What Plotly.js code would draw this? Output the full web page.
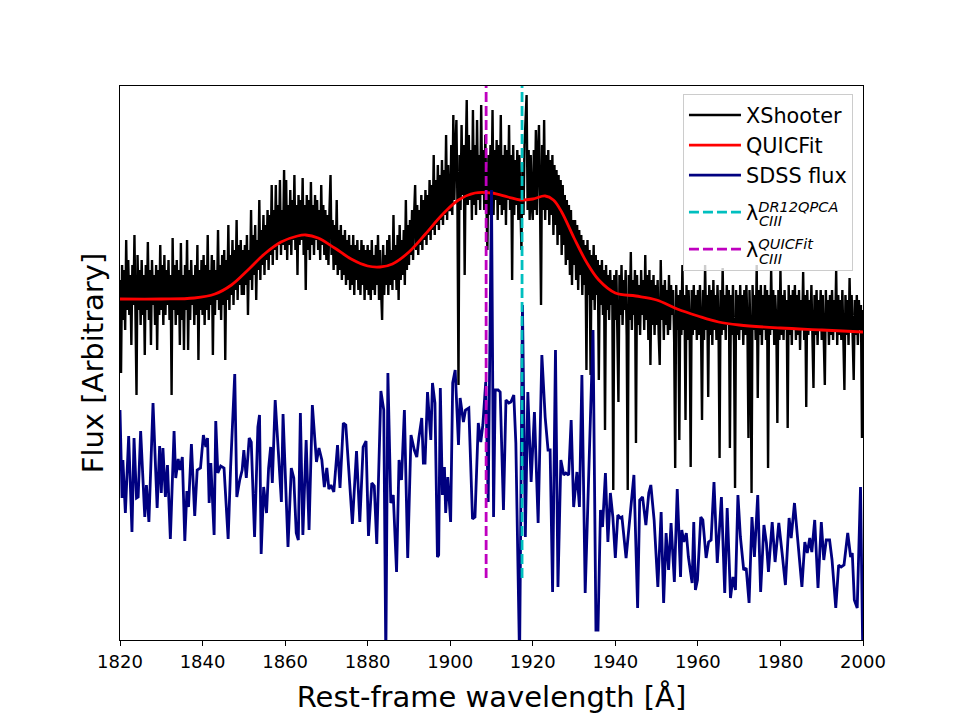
<!DOCTYPE html>
<html><head><meta charset="utf-8">
<script src="https://cdn.plot.ly/plotly-3.0.1.min.js"></script>
<style>body{margin:0;background:#fff}#chart{width:960px;height:720px}</style>
</head><body><div id="chart"></div>
<script>
// XShooter spectrum, sampled every 0.25 A from 1820 to 2000 (one row = 10 A)
const xshooterStart = 1820, xshooterStep = 0.25;
const xshooterFlux = [
3.60,2.67,3.75,3.20,3.70,3.10,4.00,3.30,3.80,3.25,3.65,2.95,3.75,3.35,4.05,3.20,2.45,3.85,3.30,3.70,3.15,3.80,3.25,3.65,2.85,3.75,3.30,3.98,3.20,3.70,2.95,3.80,3.35,3.65,3.15,3.75,2.90,3.70,3.25,3.95,
3.30,3.75,3.15,3.85,3.25,3.70,3.35,3.80,3.20,3.65,2.45,4.02,3.30,3.75,3.15,3.80,3.25,3.70,2.95,3.97,3.20,3.65,2.90,3.75,3.30,4.00,2.90,3.70,3.20,3.80,3.35,3.65,3.15,3.75,3.25,3.95,2.80,3.70,3.30,3.80,
3.25,3.85,3.15,3.75,3.30,4.05,3.20,3.70,3.35,3.85,2.85,3.80,3.25,3.70,3.40,4.10,3.30,3.75,3.20,3.85,3.35,3.90,2.80,3.80,3.40,4.15,3.30,3.85,3.45,4.00,3.35,3.90,3.50,4.20,3.40,3.95,3.55,4.00,3.45,3.90,
3.45,3.95,3.55,4.05,3.25,3.90,3.60,4.30,3.50,4.05,3.65,4.15,3.40,4.00,3.70,4.40,3.60,4.10,3.75,4.25,3.65,4.15,3.80,4.30,3.70,4.25,3.85,4.55,3.75,4.30,3.90,4.55,3.80,4.35,3.95,4.60,3.85,4.30,3.95,4.70,
3.90,4.60,3.80,4.35,3.95,4.50,3.85,4.40,4.00,4.65,3.90,4.35,3.65,4.45,3.95,4.40,4.00,4.62,3.85,4.35,3.50,4.45,3.90,4.40,3.80,4.58,3.95,4.35,3.85,4.45,4.00,4.40,3.90,4.30,3.80,4.55,3.95,4.35,3.85,4.30,
3.80,4.25,3.75,4.30,4.65,3.85,4.20,3.70,4.15,3.75,4.40,3.65,4.10,3.70,4.15,3.60,4.05,3.65,4.10,3.55,4.00,3.60,4.05,3.50,3.95,3.55,4.05,3.45,3.95,3.60,4.00,3.50,3.90,3.45,4.00,3.55,3.95,3.40,3.90,3.50,
3.95,3.45,3.90,3.40,4.00,3.50,3.85,3.45,3.95,3.55,4.05,3.40,3.90,3.50,3.20,3.95,3.45,3.85,3.55,4.00,3.45,4.05,3.55,3.90,3.50,4.25,3.60,3.95,3.50,4.05,3.40,4.15,3.60,4.00,3.65,4.10,3.55,4.40,3.70,4.15,
3.75,4.20,3.85,4.30,3.80,4.25,4.55,3.90,4.35,3.85,4.30,3.95,4.45,3.90,4.40,4.00,4.50,3.95,4.45,4.05,4.60,4.00,4.55,4.10,4.85,4.05,4.60,4.15,4.75,4.10,4.65,4.20,4.80,4.15,4.70,4.25,5.05,4.20,4.75,4.30,
4.30,4.95,4.25,5.25,4.40,4.90,5.20,4.35,2.55,4.85,4.30,5.15,4.45,4.95,3.65,4.80,5.40,4.35,5.05,4.40,4.90,4.20,5.30,4.35,4.95,4.25,5.20,4.40,4.85,4.30,5.35,4.45,4.90,4.30,5.05,4.40,3.90,4.85,4.25,4.95,
4.35,5.30,4.25,4.90,4.40,5.00,4.20,4.95,4.35,5.25,4.25,4.85,4.30,4.95,4.15,4.90,4.40,5.15,4.30,4.85,3.60,4.95,4.25,4.80,4.35,4.90,4.20,4.85,4.30,3.90,4.75,4.25,4.95,5.15,5.45,4.30,4.90,4.20,4.85,4.35,
4.20,4.90,4.30,5.10,4.25,4.85,5.15,4.40,3.35,4.95,4.30,5.20,4.20,4.85,4.30,4.90,4.15,4.80,4.25,4.85,4.05,4.75,4.15,4.70,3.95,4.65,4.05,4.60,3.85,4.55,3.95,4.45,3.75,4.40,3.80,4.35,3.65,4.30,3.55,4.20,
3.75,4.20,3.60,4.15,3.50,4.10,3.65,4.05,3.45,4.00,3.55,3.95,2.70,4.00,3.45,3.90,2.65,3.85,3.40,3.95,3.30,3.85,3.45,3.80,2.60,3.75,3.35,3.80,3.25,3.70,2.10,3.75,3.30,3.65,3.20,3.70,3.35,3.60,1.50,3.65,
3.20,3.70,3.10,2.38,3.65,3.25,3.75,3.15,3.60,3.30,3.70,3.05,1.50,3.65,3.20,3.88,3.10,3.60,3.25,3.70,1.97,3.65,3.15,3.55,3.05,3.70,3.25,3.60,3.10,3.85,3.20,3.65,3.00,3.70,2.75,3.60,3.15,3.65,3.05,3.55,
3.15,3.60,3.05,2.75,3.80,3.20,3.55,3.00,3.60,3.15,3.50,3.05,3.65,3.10,3.55,3.25,3.50,3.00,1.72,3.55,3.10,3.45,2.00,3.50,3.05,3.75,3.10,3.45,2.20,3.55,3.00,3.50,3.15,1.73,3.50,3.05,3.55,3.10,3.45,3.00,
3.50,3.05,3.55,3.15,2.20,3.50,3.00,3.75,3.10,3.45,2.43,3.55,3.05,3.50,2.95,3.60,3.10,3.45,3.00,3.55,3.15,1.82,3.50,3.05,3.72,3.10,3.45,3.00,3.55,3.15,3.50,1.92,3.45,3.05,3.55,2.95,1.52,3.50,3.05,3.45,
3.00,3.55,3.10,3.45,2.95,3.50,3.05,3.55,3.15,2.02,3.50,3.00,1.47,3.55,3.10,3.45,3.00,3.75,2.42,3.50,3.05,3.55,2.95,3.45,3.10,3.55,3.00,3.50,1.72,3.45,3.05,3.70,3.10,3.50,2.95,3.45,3.15,2.17,3.50,3.00,
3.70,3.05,3.45,3.00,3.50,3.10,3.40,2.12,3.55,3.05,3.45,2.95,3.50,3.10,3.55,3.00,3.45,3.05,3.50,2.90,3.40,3.10,3.68,3.00,3.45,2.33,3.50,3.05,3.40,3.10,3.55,3.00,2.52,3.45,3.05,3.50,2.95,3.40,3.10,3.50,
3.00,3.45,3.05,2.55,3.50,3.10,3.40,2.95,3.45,3.05,3.50,3.00,3.40,3.10,3.70,2.95,3.45,3.05,3.40,3.00,3.50,3.10,2.50,3.45,3.05,3.40,2.95,3.62,3.10,3.45,3.00,2.60,3.40,3.05,3.45,2.95,3.40,3.10,3.35,2.02,
3.30
];

// QUICFit model
const quicWave = [1820,1830,1838,1843,1847,1851,1855,1859,1863,1865,1868,1872,1876,1880,1883,1886,1890,1894,1898,1902,1906,1910,1914,1917,1920,1923,1925,1927,1930,1933,1936,1940,1945,1950,1955,1960,1965,1970,1980,1990,2000];
const quicFlux = [3.41,3.41,3.42,3.46,3.55,3.70,3.86,3.98,4.04,4.05,4.02,3.92,3.81,3.74,3.73,3.76,3.88,4.06,4.25,4.40,4.47,4.47,4.43,4.40,4.41,4.44,4.40,4.28,4.02,3.78,3.60,3.47,3.44,3.40,3.31,3.24,3.18,3.15,3.12,3.10,3.08];

// SDSS flux
const sdssWave = [1820.0,1820.5,1820.7,1821.3,1822.1,1822.9,1823.4,1824.0,1824.4,1825.0,1826.0,1826.4,1827.0,1828.0,1829.0,1829.6,1830.0,1830.4,1831.0,1831.5,1832.2,1833.1,1833.5,1834.1,1834.5,1835.1,1835.7,1836.2,1836.6,1837.3,1838.1,1838.7,1839.5,1840.2,1840.8,1841.2,1841.6,1842.0,1842.8,1843.2,1843.7,1844.4,1845.2,1846.2,1846.8,1847.8,1848.3,1849.0,1849.6,1850.0,1850.6,1851.3,1851.8,1852.6,1853.4,1853.8,1854.2,1854.8,1855.5,1856.0,1856.5,1856.9,1857.6,1859.1,1859.5,1860.7,1861.5,1862.1,1862.7,1863.2,1863.7,1864.3,1865.1,1865.8,1866.6,1867.6,1868.2,1868.9,1869.5,1870.1,1870.6,1871.1,1871.8,1872.7,1873.3,1874.1,1874.7,1875.3,1876.3,1877.3,1878.1,1878.9,1879.6,1880.2,1881.0,1881.6,1882.2,1883.2,1883.9,1884.4,1884.9,1885.6,1886.2,1887.0,1887.6,1888.2,1888.9,1889.7,1890.5,1891.3,1891.9,1892.4,1893.1,1893.5,1893.9,1894.5,1895.3,1895.7,1896.3,1896.9,1897.2,1897.6,1898.1,1898.6,1898.9,1899.4,1900.1,1900.6,1901.2,1902.0,1902.4,1903.2,1903.7,1904.5,1905.4,1906.0,1906.8,1907.4,1907.9,1908.6,1909.2,1910.0,1910.5,1910.9,1911.6,1912.1,1912.9,1913.5,1914.2,1914.7,1915.4,1915.9,1916.8,1917.5,1918.2,1918.8,1919.6,1920.4,1921.3,1922.2,1923.0,1923.7,1924.2,1924.8,1925.5,1926.1,1926.8,1927.5,1928.0,1928.7,1929.3,1929.9,1930.7,1931.3,1931.9,1932.7,1933.5,1934.1,1934.6,1935.3,1935.8,1936.4,1936.9,1937.6,1938.2,1938.8,1939.4,1940.0,1940.6,1941.2,1941.6,1942.6,1943.2,1943.9,1944.5,1945.4,1945.9,1946.6,1947.4,1948.1,1948.6,1949.4,1950.3,1951.1,1951.7,1952.3,1952.9,1953.5,1954.3,1955.0,1955.8,1956.1,1956.6,1957.2,1957.7,1958.6,1959.0,1959.4,1959.9,1960.7,1961.2,1962.0,1962.6,1963.2,1963.9,1964.7,1965.7,1966.5,1967.1,1967.9,1968.5,1969.1,1969.7,1970.3,1971.1,1971.7,1972.4,1973.1,1973.7,1974.5,1975.2,1976.0,1976.6,1977.1,1978.0,1978.7,1979.6,1980.4,1981.2,1982.1,1982.6,1983.4,1984.1,1985.2,1985.9,1986.5,1987.1,1987.6,1988.3,1989.1,1989.9,1990.5,1991.1,1991.9,1992.5,1993.4,1994.1,1994.7,1995.4,1996.3,1997.0,1997.4,1997.9,1998.6,1999.4,2000.0];
const sdssFlux = [2.30,1.42,1.80,1.27,2.04,1.08,2.02,1.42,1.43,2.09,1.23,1.55,1.18,2.37,1.32,1.94,1.47,1.92,1.43,1.75,1.01,2.09,1.62,1.81,1.70,1.83,0.99,1.49,1.33,1.96,1.24,1.70,1.72,2.05,1.93,2.02,1.37,1.77,1.05,2.19,1.67,1.74,1.72,1.01,1.73,2.66,1.43,1.60,1.70,1.90,1.62,2.02,1.98,1.03,2.13,2.25,0.86,1.53,1.27,1.72,1.93,1.57,2.40,1.38,2.26,0.93,1.72,1.62,1.07,1.00,2.27,1.05,2.00,1.10,2.35,1.78,1.92,1.80,1.53,1.72,1.51,1.55,1.48,1.95,1.52,2.17,2.15,1.80,1.16,1.89,1.18,1.93,1.99,1.04,1.57,1.54,0.96,2.49,2.30,-0.20,2.67,1.37,1.45,0.68,1.80,1.60,2.30,0.82,2.05,1.90,1.83,2.02,2.22,1.77,1.77,2.48,2.00,2.57,2.37,0.83,0.85,2.52,1.45,1.73,1.27,1.63,1.18,2.57,2.70,1.95,2.42,2.18,2.30,2.32,1.21,1.23,2.17,1.98,2.15,2.58,1.38,4.50,1.23,2.50,2.50,2.48,1.30,2.40,2.37,2.38,2.45,1.97,-0.20,3.35,1.03,2.48,1.58,2.28,1.17,2.85,2.23,1.90,1.90,0.48,2.90,0.53,1.80,1.65,1.67,1.65,2.20,1.33,1.68,1.33,2.65,0.47,1.53,2.55,3.10,0.10,0.10,1.30,1.13,1.67,0.98,1.47,1.23,0.82,1.25,1.22,1.23,0.82,1.07,1.40,1.65,0.32,1.40,1.43,1.15,1.47,1.55,1.20,0.53,1.28,0.37,1.07,0.70,1.17,0.58,1.51,0.63,1.10,0.98,1.07,0.83,0.57,1.18,0.50,0.60,1.23,1.20,0.82,0.98,1.00,1.58,0.77,1.43,0.47,1.32,0.42,0.63,0.50,1.45,1.03,0.70,0.72,0.37,1.23,0.83,1.45,0.48,1.15,0.97,0.68,1.18,0.78,1.17,0.87,0.55,1.22,1.02,1.37,1.05,0.53,0.98,0.87,1.02,0.88,1.20,0.52,1.18,0.80,1.00,1.00,0.80,0.32,0.75,0.73,0.75,1.07,0.83,0.87,0.40,0.32,1.53,-0.30];

// CIII] line centres
const lambdaDR12 = 1917.4;
const lambdaQUIC = 1908.7;
const markerFluxRange = [0.62, 5.8];

const xshooterWave = xshooterFlux.map((_, i) => xshooterStart + i * xshooterStep);

const traces = [
  {x: xshooterWave, y: xshooterFlux, mode: 'lines', name: 'XShooter', legendgroup: 'spec',
   line: {color: '#000000', width: 2.4}},
  {x: quicWave, y: quicFlux, mode: 'lines', name: 'QUICFit', legendgroup: 'spec',
   line: {color: '#ff0000', width: 2.8, shape: 'spline', smoothing: 1}},
  {x: sdssWave, y: sdssFlux, mode: 'lines', name: 'SDSS flux', legendgroup: 'spec',
   line: {color: '#000080', width: 2.8}},
  {x: [lambdaDR12, lambdaDR12], y: markerFluxRange, mode: 'lines', legendgroup: 'dr12',
   name: 'λ<sup><i>DR12QPCA</i></sup>',
   line: {color: '#00bfbf', width: 2.8, dash: '10px,4px'}},
  {x: [lambdaQUIC, lambdaQUIC], y: markerFluxRange, mode: 'lines', legendgroup: 'quic',
   name: 'λ<sup><i>QUICFit</i></sup>',
   line: {color: '#bf00bf', width: 2.8, dash: '10px,4px'}}
];

const layout = {
  width: 960, height: 720,
  margin: {l: 120, r: 97, t: 86, b: 80},
  paper_bgcolor: '#ffffff', plot_bgcolor: '#ffffff',
  font: {family: 'DejaVu Sans', color: '#000000'},
  showlegend: true,
  xaxis: {range: [1820, 2000], tick0: 1820, dtick: 20, ticks: 'outside', ticklen: 5, tickwidth: 1,
    tickcolor: '#000', showline: true, mirror: true, linecolor: '#000', linewidth: 1,
    showgrid: false, zeroline: false, tickfont: {size: 18},
    title: {text: 'Rest-frame wavelength [Å]', font: {size: 29}, standoff: 16}},
  yaxis: {range: [0, 5.54], showticklabels: false, ticks: '', showline: true, mirror: true,
    linecolor: '#000', linewidth: 1, showgrid: false, zeroline: false,
    title: {text: 'Flux [Arbitrary]', font: {size: 29}, standoff: 6}},
  legend: {x: 0.9865, xanchor: 'right', y: 0.9856, yanchor: 'top', bgcolor: 'rgba(255,255,255,0.8)',
    bordercolor: '#cccccc', borderwidth: 1, font: {size: 20.8}, itemwidth: 52, tracegroupgap: 7},
  annotations: [
    {text: '<i>CIII</i>', xref: 'paper', yref: 'paper', x: (757 - 120) / 743, y: (640 - 221) / 554,
     xanchor: 'left', yanchor: 'middle', showarrow: false, font: {size: 14.5}},
    {text: '<i>CIII</i>', xref: 'paper', yref: 'paper', x: (757 - 120) / 743, y: (640 - 259) / 554,
     xanchor: 'left', yanchor: 'middle', showarrow: false, font: {size: 14.5}}
  ]
};

Plotly.newPlot('chart', traces, layout, {staticPlot: true});
</script>
</body></html>
